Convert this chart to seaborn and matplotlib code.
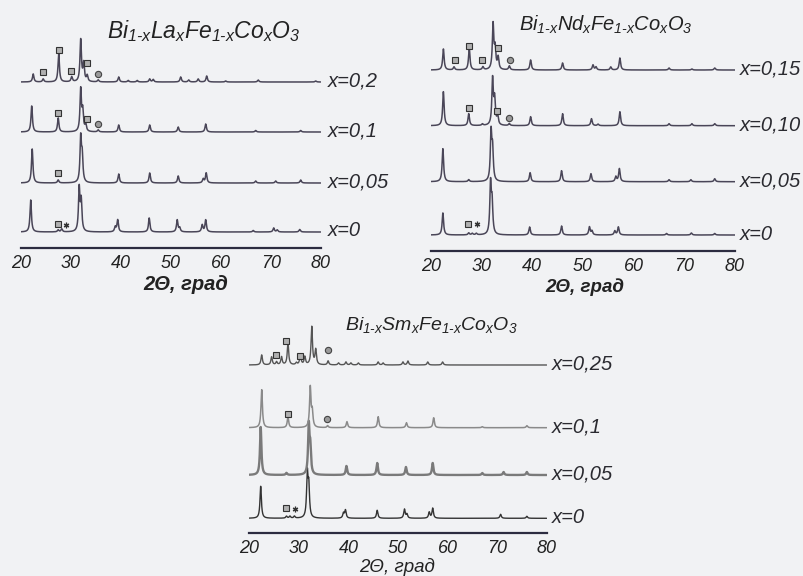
import numpy as np
import pandas as pd
import seaborn as sns
from matplotlib import pyplot as plt
from matplotlib.ticker import MultipleLocator

# peak lists: 2theta positions and heights (px above baseline)
la_labels = ['x=0', 'x=0,05', 'x=0,1', 'x=0,2']
la_pos = [
    [22.0, 27.5, 28.2, 31.7, 32.1, 38.9, 39.4, 45.7, 51.3, 51.8, 56.3, 57.0, 66.5, 70.6, 71.3, 75.8],
    [22.3, 27.5, 32.0, 32.3, 39.6, 45.8, 51.5, 56.5, 57.1, 67.0, 71.0, 76.0],
    [22.2, 27.5, 32.0, 32.4, 33.0, 35.5, 39.6, 45.8, 51.5, 57.0, 67.0, 76.0],
    [22.5, 24.5, 27.6, 30.2, 32.0, 32.6, 33.3, 35.5, 39.6, 41.5, 43.3, 45.8, 46.5, 52.0, 53.6, 55.5, 57.2, 61.0, 67.5, 79.0],
]
la_h = [
    [32, 2, 3, 43, 30, 5, 12, 14, 12, 4, 7, 12, 1.5, 4, 2, 2.5],
    [34, 3, 44, 25, 9, 10, 7, 4, 10, 2, 2, 3],
    [26, 14, 42, 20, 7, 2, 7, 7, 5, 8, 1.5, 1.5],
    [8, 3, 28, 5, 42, 18, 6, 2, 5, 1.5, 1.5, 3, 2.5, 5, 2, 3, 6, 1, 2, 1],
]

nd_labels = ['x=0', 'x=0,05', 'x=0,10', 'x=0,15']
nd_pos = [
    [22.4, 27.5, 28.2, 29.0, 31.8, 32.1, 39.5, 45.8, 51.3, 51.8, 56.3, 57.0, 66.5, 71.4, 76.0],
    [22.4, 27.5, 31.9, 32.2, 39.6, 45.8, 51.6, 56.5, 57.2, 67.0, 71.3, 76.0],
    [22.5, 27.5, 30.2, 32.2, 32.6, 33.2, 35.5, 39.7, 46.0, 51.7, 53.0, 57.3, 67.0, 71.5, 76.0],
    [22.5, 24.6, 27.6, 30.3, 32.3, 32.7, 33.3, 35.5, 39.7, 46.0, 52.0, 52.6, 55.5, 57.3, 67.0, 71.5, 76.0],
]
nd_h = [
    [22, 2, 1.5, 1.5, 50, 30, 8, 9, 8, 4, 4, 8, 1.5, 2, 1.5],
    [33, 2, 48, 30, 9, 11, 8, 5, 13, 2, 2, 3],
    [34, 12, 1.5, 46, 25, 9, 2, 9, 12, 7, 1.5, 14, 2, 2, 2],
    [21, 3, 22, 3, 45, 20, 12, 4, 10, 7, 5, 3, 3, 12, 2, 1, 2],
]

sm_labels = ['x=0', 'x=0,05', 'x=0,1', 'x=0,25']
sm_pos = [
    [22.3, 27.5, 28.2, 29.1, 31.7, 32.0, 39.0, 39.4, 45.8, 51.3, 51.8, 56.3, 57.0, 70.7, 76.0],
    [22.3, 27.5, 32.0, 32.3, 39.6, 45.8, 51.6, 57.0, 67.0, 71.3, 76.0],
    [22.5, 27.8, 32.3, 32.7, 35.8, 39.7, 46.0, 51.7, 57.2, 67.0, 76.0],
    [22.5, 24.5, 25.5, 26.5, 27.8, 29.5, 30.3, 31.2, 32.6, 33.4, 35.9, 38.0, 39.5, 40.5, 42.0, 46.0, 47.0, 51.0, 52.0, 56.0, 59.0],
]
sm_h = [
    [32, 2, 2, 2, 43, 30, 5, 8, 8, 9, 4, 6, 10, 4, 2],
    [48, 2, 48, 25, 9, 12, 8, 12, 2, 3, 3],
    [38, 11, 40, 15, 2, 6, 11, 5, 10, 1, 2],
    [10, 8, 3, 8, 22, 2, 10, 8, 38, 15, 4, 2, 3, 2, 2, 3, 2, 3, 4, 3, 3],
]

# phase markers: (pattern index, 2theta, height, kind)
la_marks = [(0, 27.4, 8, 's'), (0, 29.0, 7, '*'), (1, 27.5, 10, 's'), (2, 27.5, 19, 's'),
            (2, 33.3, 13, 's'), (2, 35.5, 8, 'o'), (3, 24.5, 10, 's'), (3, 27.6, 32, 's'),
            (3, 30.0, 11, 's'), (3, 33.3, 19, 's'), (3, 35.5, 8, 'o')]
nd_marks = [(0, 27.4, 11, 's'), (0, 29.2, 11, '*'), (2, 27.6, 18, 's'), (2, 33.0, 15, 's'),
            (2, 35.4, 8, 'o'), (3, 24.8, 10, 's'), (3, 27.6, 24, 's'), (3, 30.2, 10, 's'),
            (3, 33.3, 22, 's'), (3, 35.6, 10, 'o')]
sm_marks = [(0, 27.4, 10, 's'), (0, 29.3, 9, '*'), (2, 27.9, 14, 's'), (2, 35.7, 9, 'o'),
            (3, 25.3, 10, 's'), (3, 27.5, 24, 's'), (3, 30.3, 9, 's'), (3, 35.9, 15, 'o')]

W, H = 804, 576

sns.set_style('white')
plt.rcParams['font.family'] = ['Liberation Sans', 'DejaVu Sans']
plt.rcParams['mathtext.fontset'] = 'custom'
plt.rcParams['mathtext.rm'] = 'Liberation Sans:italic'
plt.rcParams['mathtext.it'] = 'Liberation Sans:italic'

fig = plt.figure(figsize=(W / 100, H / 100), dpi=100)
fig.patch.set_facecolor('#f1f2f4')

grid = np.linspace(20, 80, 3000)


def profile(pos, h, w):
    y = np.zeros_like(grid)
    for p, a in zip(pos, h):
        y += a / (1 + ((grid - p) / w) ** 2)
    return y


def formula(ln):
    s = '\u2010'
    return rf'$Bi_{{1{s}x}}{ln}_{{x}}Fe_{{1{s}x}}Co_{{x}}O_{{3}}$'


def panel(box, offsets, labels, pos, h, marks, colors, widths, title, tpos, tsize,
          xl_pos, xl_bold, xl_size, lab_x):
    l, r, b, t = box
    ax = fig.add_axes([l / W, 1 - b / H, (r - l) / W, (b - t) / H])
    ax.patch.set_alpha(0)
    for i in range(len(labels)):
        df = pd.DataFrame({'tt': grid, 'I': offsets[i] + profile(pos[i], h[i], 0.17)})
        sns.lineplot(data=df, x='tt', y='I', ax=ax, color=colors[i], lw=widths[i])
        ax.text(lab_x, offsets[i] + 1, labels[i], fontsize=14.5, style='italic',
                color='#2a2a30', va='center', ha='left', clip_on=False)
    for i, p, y, k in marks:
        if k == '*':
            ax.plot(p, offsets[i] + y, marker=(6, 2, 0), ms=4, color='#333', mew=0.9)
        elif k == 'o':
            ax.plot(p, offsets[i] + y, marker='o', ms=4.5, mfc='#9a9a9a', mec='#444', mew=0.8)
        else:
            ax.plot(p, offsets[i] + y, marker='s', ms=4.2, mfc='#b0b0b0', mec='#333', mew=0.8)
    ax.set_xlim(20, 80)
    ax.set_ylim(0, b - t)
    sns.despine(ax=ax, left=True, top=True, right=True)
    ax.spines['bottom'].set_linewidth(1.6)
    ax.spines['bottom'].set_color('#2c2c40')
    ax.set_yticks([])
    ax.xaxis.set_major_locator(MultipleLocator(10))
    ax.xaxis.set_minor_locator(MultipleLocator(5))
    ax.tick_params(axis='x', which='major', direction='inout', length=4, width=1,
                   color='#777', labelsize=13, pad=3, labelcolor='#222')
    ax.tick_params(axis='x', which='minor', direction='inout', length=2, width=1, color='#777')
    for tl in ax.get_xticklabels():
        tl.set_style('italic')
    ax.set_xlabel('')
    ax.set_ylabel('')
    fig.text(tpos[0] / W, 1 - tpos[1] / H, title, fontsize=tsize, ha='center', va='center',
             color='#222')
    fig.text(xl_pos[0] / W, 1 - xl_pos[1] / H, '2Θ, град', fontsize=xl_size, style='italic',
             weight='bold' if xl_bold else 'normal', ha='center', va='center', color='#222')
    return ax


dark = ['#4a4658'] * 4
lw1 = [1.1] * 4

panel((20.7, 320.7, 248, 10), [16, 65, 116, 166], la_labels, la_pos, la_h, la_marks,
      dark, lw1, formula('La'), (204, 31), 16.5,
      (186, 284), True, 14.5, 81.5)

panel((430.7, 735, 250.7, 10), [15.7, 69, 125, 180.7], nd_labels, nd_pos, nd_h, nd_marks,
      dark, lw1, formula('Nd'), (606, 25), 14.5,
      (585, 287), True, 13.5, 81.0)

panel((249.3, 546.7, 533.3, 290), [15, 58.3, 105.6, 168.3], sm_labels, sm_pos, sm_h, sm_marks,
      ['#333333', '#7a7a7a', '#8a8a8a', '#555555'], [1.0, 1.7, 1.1, 1.0],
      formula('Sm'), (431, 325), 14,
      (397, 567), False, 13.5, 81.0)

fig.savefig('out.png', dpi=100, facecolor=fig.get_facecolor())
